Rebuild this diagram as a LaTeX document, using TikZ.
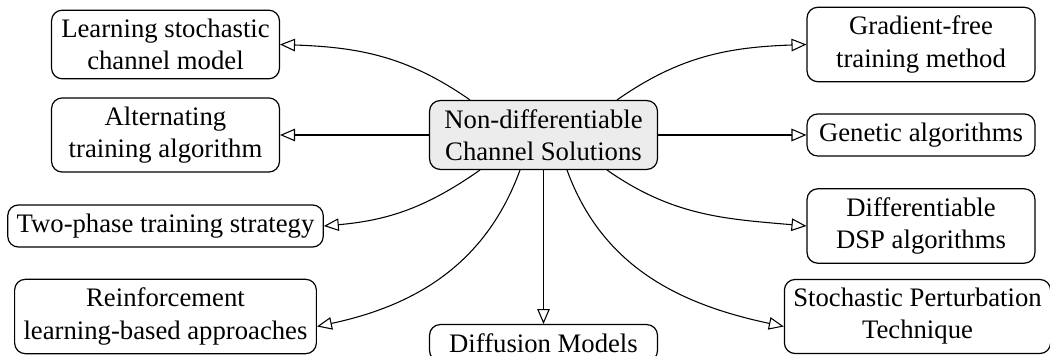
\documentclass[tikz,border=0pt]{standalone}
\usepackage{fontspec}
\setmainfont{Liberation Serif}
\usetikzlibrary{arrows.meta,calc}
\begin{document}
\begin{tikzpicture}[x=0.3745pt,y=-0.3745pt,
  box/.style={draw, rounded corners=4pt, align=center, minimum width=3cm,
    font=\fontsize{10}{12}\selectfont, inner sep=3.33pt, line width=0.45pt},
  hub/.style={box, fill=gray!15},
  conn/.style={-{Triangle[open,length=5.6pt,width=4.7pt]}, line width=0.4pt}]
\useasboundingbox (0,0) rectangle (1050,356);
\node[hub] (c) at (543.5,135) {Non-differentiable\\Channel Solutions};
\node[box] (l1) at (165.5,44.5) {Learning stochastic\\channel model};
\node[box] (l2) at (165.5,135) {Alternating\\training algorithm};
\node[box] (l3) at (165.5,226) {Two-phase training strategy};
\node[box] (l4) at (165.5,316.5) {Reinforcement\\learning-based approaches};
\node[box] (d) at (543.5,343) {Diffusion Models};
\node[box] (r1) at (921,44.5) {Gradient-free\\training method};
\node[box] (r2) at (921,135) {Genetic algorithms};
\node[box] (r3) at (921,226) {Differentiable\\DSP algorithms};
\node[box] (r4) at (917.5,316.5) {Stochastic Perturbation\\Technique};
\draw[conn] ($(c.north)+(-73.5,0)$) to[out=145,in=-2] (l1.east);
\draw[conn] (c.west) -- (l2.east);
\draw[conn] ($(c.south)+(-63.5,0)$) to[out=215,in=5] (l3.east);
\draw[conn] ($(c.south)+(-23.5,0)$) to[out=250,in=12] ($(l4.east)+(0,10)$);
\draw[conn] (c.south) -- (d.north);
\draw[conn] ($(c.south)+(23.5,0)$) to[out=290,in=168] ($(r4.west)+(0,10)$);
\draw[conn] ($(c.south)+(63.5,0)$) to[out=325,in=175] (r3.west);
\draw[conn] (c.east) -- (r2.west);
\draw[conn] ($(c.north)+(73.5,0)$) to[out=35,in=182] (r1.west);
\end{tikzpicture}
\end{document}
